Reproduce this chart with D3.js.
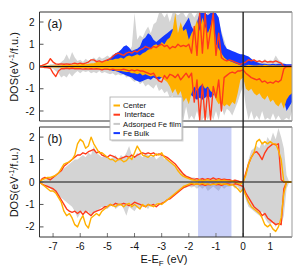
<!DOCTYPE html>
<meta charset="utf-8">
<style>
body { margin: 0; background: #fff; }
text { font-family: "Liberation Sans", Arial, Helvetica, sans-serif; fill: #111; }
.tick { font-size: 10px; }
.legend text { font-size: 7.7px; }
</style>
<svg width="299" height="269"></svg>
<script src="https://d3js.org/d3.v7.min.js"></script>
<script>

// energy grid: -7.5 eV to 1.8 eV, 0.1 eV step (94 points)
var eStart = -7.5, eStep = 0.1, nPts = 94;

// ---- panel (a) ----
var aCenterUp = [
  0.03, 0.05, 0.05, 0.04, 0.05,  0.05, 0.06, 0.05, 0.06, 0.08,
  0.08, 0.1, 0.08, 0.1, 0.1,     0.1, 0.12, 0.1, 0.12, 0.15,
  0.15, 0.2, 0.2, 0.22, 0.25,    0.25, 0.3, 0.3, 0.35, 0.35,
  0.4, 0.35, 0.45, 0.5, 0.45,    0.5, 0.55, 0.5, 0.6, 0.65,
  0.75, 0.8, 0.95, 1.0, 0.9,     1.1, 1.0, 1.2, 1.3, 1.6,
  2.4, 1.5, 2.0, 1.6, 1.7,       1.2, 1.5, 1.7, 2.1, 1.6,
  2.2, 1.8, 1.5, 1.8, 2.4,       1.0, 0.8, 0.6, 0.4, 0.3,
  0.25, 0.2, 0.15, 0.1, 0.05,    0.02, 0.05, 0.08, 0.06, 0.05,
  0.05, 0.06, 0.05, 0.08, 0.06,  0.05, 0.06, 0.05, 0.04, 0.05,
  0.02, 0, 0, 0
];
var aCenterDown = [
  -0.03, -0.04, -0.05, -0.04, -0.05,  -0.05, -0.06, -0.05, -0.06, -0.06,
  -0.06, -0.07, -0.06, -0.07, -0.08,  -0.08, -0.08, -0.09, -0.1, -0.1,
  -0.1, -0.1, -0.12, -0.12, -0.12,    -0.15, -0.15, -0.15, -0.18, -0.2,
  -0.2, -0.22, -0.25, -0.25, -0.3,    -0.3, -0.35, -0.3, -0.4, -0.35,
  -0.4, -0.45, -0.4, -0.5, -0.45,     -0.5, -0.6, -0.7, -0.9, -1.2,
  -1.0, -1.3, -1.1, -1.6, -1.4,       -1.7, -1.2, -0.9, -1.1, -0.9,
  -0.8, -1.0, -0.9, -1.1, -1.2,       -1.5, -1.7, -1.6, -1.8, -1.7,
  -1.8, -1.6, -1.7, -1.2, -0.6,       -0.5, -1.0, -1.1, -1.0, -1.2,
  -1.3, -1.2, -1.4, -1.5, -1.3,       -1.6, -1.5, -1.7, -1.8, -1.6,
  -1.9, -1.5, -1.3, -1.2
];
var aInterUp = [
  0.02, 0.05, 0.1, 0.15, 0.35,   0.2, 0.12, 0.1, 0.12, 0.1,
  0.12, 0.1, 0.12, 0.15, 0.12,   0.15, 0.12, 0.15, 0.2, 0.3,
  0.3, 0.22, 0.25, 0.2, 0.25,    0.3, 0.35, 0.45, 0.55, 0.6,
  0.55, 0.5, 0.6, 0.65, 0.6,     0.7, 0.65, 0.75, 0.8, 0.9,
  0.85, 0.8, 0.9, 0.85, 0.95,    1.0, 0.9, 0.95, 0.8, 0.9,
  0.85, 1.0, 0.9, 0.95, 0.9,     1.0, 0.6, 1.8, 0.5, 2.4,
  0.6, 2.4, 0.8, 1.6, 2.4,       0.5, 1.5, 0.4, 0.3, 0.25,
  0.3, 0.25, 0.2, 0.15, 0.1,     0.15, 0.2, 0.3, 0.25, 0.3,
  0.22, 0.25, 0.2, 0.25, 0.2,    0.22, 0.2, 0.25, 0.2, 0.15,
  0, 0, 0, 0
];
var aInterDown = [
  -0.02, -0.03, -0.05, -0.05, -0.08,  -0.3, -0.45, -0.2, -0.1, -0.1,
  -0.08, -0.1, -0.08, -0.1, -0.1,     -0.1, -0.12, -0.1, -0.12, -0.1,
  -0.12, -0.1, -0.12, -0.15, -0.12,   -0.12, -0.15, -0.12, -0.15, -0.15,
  -0.15, -0.12, -0.15, -0.2, -0.15,   -0.2, -0.15, -0.2, -0.2, -0.25,
  -0.3, -0.35, -0.3, -0.5, -0.65,     -0.7, -0.4, -0.55, -0.35, -0.4,
  -0.5, -0.35, -0.6, -0.45, -0.3,     -0.5, -0.3, -1.6, -0.6, -2.4,
  -0.8, -2.4, -1.0, -2.4, -0.9,       -1.4, -0.6, -2.0, -0.5, -0.4,
  -0.3, -0.25, -0.3, -0.2, -0.2,      -0.15, -0.3, -0.4, -0.5, -0.55,
  -0.6, -0.55, -0.7, -0.65, -0.75,    -0.7, -0.75, -0.65, -0.7, -0.6,
  -0.1, 0, 0, 0
];
var aFilmUp = [
  0.02, 0.05, 0.08, 0.05, 0.1,   0.1, 0.15, 0.1, 0.2, 0.3,
  0.55, 0.3, 0.65, 0.4, 0.25,    0.3, 0.2, 0.35, 0.25, 0.3,
  0.4, 0.3, 0.45, 0.35, 0.4,     0.5, 0.4, 0.55, 0.5, 0.6,
  0.7, 0.6, 0.8, 0.7, 0.9,       2.4, 1.2, 1.4, 1.3, 1.6,
  1.8, 1.5, 1.9, 2.0, 2.4,       2.4, 2.2, 2.4, 2.0, 2.4,
  2.4, 2.3, 2.4, 2.4, 2.2,       2.4, 2.4, 2.2, 2.4, 2.4,
  2.4, 2.3, 2.4, 2.4, 2.4,       2.4, 2.0, 1.6, 1.2, 0.8,
  0.6, 0.5, 0.45, 0.4, 0.3,      0.2, 0.25, 0.3, 0.2, 0.25,
  0.2, 0.3, 0.2, 0.35, 0.2,      0.3, 0.25, 0.5, 0.3, 0.2,
  0.15, 0.1, 0.1, 0.1
];
var aFilmDown = [
  -0.02, -0.05, -0.05, -0.1, -0.08,  -0.1, -0.2, -0.3, -0.5, -0.4,
  -0.5, -0.3, -0.45, -0.3, -0.2,     -0.3, -0.2, -0.25, -0.2, -0.3,
  -0.25, -0.3, -0.2, -0.3, -0.25,    -0.3, -0.35, -0.3, -0.4, -0.35,
  -0.4, -0.35, -0.5, -0.45, -0.6,    -0.7, -0.6, -0.8, -0.7, -0.9,
  -0.8, -0.9, -1.0, -0.8, -1.1,      -1.0, -1.2, -1.1, -1.4, -1.3,
  -1.6, -2.4, -2.0, -2.4, -1.8,      -2.4, -2.2, -2.4, -2.0, -2.4,
  -2.4, -2.2, -2.4, -2.1, -2.4,      -2.0, -2.4, -1.8, -2.2, -1.9,
  -2.0, -2.2, -1.9, -1.6, -1.2,      -0.9, -1.8, -2.4, -2.0, -2.4,
  -2.2, -2.4, -2.0, -2.4, -2.3,      -2.4, -2.1, -2.4, -2.2, -2.4,
  -2.4, -2.3, -2.4, -2.0
];
var aBulkUp = [
  0.02, 0.03, 0.02, 0.02, 0.03,  0.03, 0.02, 0.03, 0.02, 0.03,
  0.03, 0.04, 0.03, 0.05, 0.04,  0.05, 0.05, 0.06, 0.05, 0.07,
  0.08, 0.1, 0.12, 0.15, 0.2,    0.3, 0.35, 0.5, 0.6, 0.65,
  0.75, 0.9, 0.95, 0.85, 0.7,    0.75, 0.8, 0.9, 1.2, 1.3,
  1.5, 1.4, 1.2, 1.1, 1.2,       1.3, 1.4, 1.5, 1.6, 1.7,
  1.4, 1.5, 1.6, 1.8, 2.0,       2.2, 1.8, 1.6, 2.0, 2.4,
  2.4, 2.4, 2.3, 2.4, 2.4,       2.4, 2.2, 1.5, 1.0, 0.8,
  0.75, 0.7, 0.65, 0.6, 0.55,    0.55, 0.5, 0.45, 0.35, 0.25,
  0.2, 0.15, 0.12, 0.12, 0.1,    0.1, 0.12, 0.1, 0.12, 0.12,
  0.12, 0.1, 0.1, 0.1
];
var aBulkDown = [
  -0.02, -0.03, -0.03, -0.02, -0.03,  -0.03, -0.03, -0.04, -0.03, -0.04,
  -0.04, -0.05, -0.04, -0.05, -0.05,  -0.05, -0.06, -0.06, -0.07, -0.08,
  -0.08, -0.1, -0.1, -0.12, -0.12,    -0.15, -0.15, -0.2, -0.2, -0.25,
  -0.3, -0.35, -0.4, -0.45, -0.5,     -0.6, -0.65, -0.7, -0.65, -0.6,
  -0.55, -0.6, -0.5, -0.55, -0.6,     -0.5, -0.45, -0.5, -0.55, -0.5,
  -0.6, -0.7, -0.8, -0.9, -1.0,       -1.2, -1.3, -1.4, -1.5, -1.4,
  -1.5, -1.4, -1.3, -1.4, -1.3,       -1.2, -1.1, -1.0, -1.0, -0.9,
  -0.9, -0.8, -0.7, -0.6, -0.5,       -0.4, -0.45, -0.5, -0.5, -0.55,
  -0.6, -0.6, -0.65, -0.7, -0.7,      -0.75, -0.8, -0.85, -0.9, -1.0,
  -1.5, -2.0, -1.8, -1.6
];

// ---- panel (b) ----
var bGrayUp = [
  0, 0.05, 0.1, 0.15, 0.2,       0.25, 0.3, 0.4, 0.5, 0.6,
  0.7, 0.8, 0.9, 1.0, 1.0,       1.1, 1.2, 1.1, 1.3, 1.2,
  1.6, 1.3, 1.2, 1.1, 1.2,       1.1, 1.0, 1.1, 1.2, 1.0,
  1.2, 1.1, 1.3, 1.6, 1.2,       1.1, 1.3, 1.2, 1.1, 1.3,
  1.2, 1.1, 1.2, 1.0, 1.1,       1.2, 1.0, 1.1, 0.9, 0.8,
  0.7, 0.6, 0.5, 0.4, 0.3,       0.25, 0.2, 0.2, 0.15, 0.15,
  0.2, 0.1, 0.15, 0.1, 0.12,     0.1, 0.15, 0.1, 0.12, 0.1,
  0.1, 0.08, 0.1, 0.05, 0.05,    0, 0.5, 1.0, 1.4, 1.5,
  1.6, 1.5, 1.8, 1.6, 2.0,       1.8, 2.2, 1.9, 2.4, 2.0,
  1.5, 0.3, 0, 0
];
var bGrayDown = [
  0, -0.05, -0.1, -0.2, -0.3,    -0.4, -0.5, -0.6, -0.7, -0.8,
  -0.9, -1.0, -1.1, -1.3, -1.6,  -1.4, -1.3, -1.4, -1.3, -1.5,
  -1.4, -1.3, -1.2, -1.1, -1.2,  -1.2, -1.1, -1.0, -1.2, -1.1,
  -1.0, -1.2, -1.5, -1.1, -1.2,  -1.3, -1.1, -1.2, -1.0, -1.1,
  -1.2, -1.0, -1.1, -1.0, -0.9,  -1.0, -0.9, -0.8, -0.7, -0.6,
  -0.5, -0.4, -0.35, -0.3, -0.25, -0.2, -0.25, -0.2, -0.3, -0.2,
  -0.3, -0.2, -0.4, -0.3, -0.2,  -0.3, -0.4, -0.2, -0.3, -0.2,
  -0.2, -0.15, -0.3, -0.2, -0.4, -0.3, -0.8, -1.1, -1.2, -1.3,
  -1.4, -1.5, -1.3, -1.6, -1.8,  -1.9, -1.7, -2.0, -1.8, -1.9,
  -1.5, -0.3, 0, 0
];
var bOrangeUp = [
  0, 0.1, 0.15, 0.2, 0.2,        0.25, 0.3, 0.4, 0.6, 0.8,
  0.85, 0.9, 1.0, 1.2, 1.7,      1.9, 1.8, 1.5, 1.6, 2.0,
  1.7, 1.5, 1.3, 1.3, 1.2,       1.1, 1.0, 1.0, 0.9, 1.0,
  1.0, 0.9, 0.95, 1.1, 1.0,      1.3, 1.6, 1.4, 1.2, 1.15,
  1.1, 1.2, 1.15, 1.25, 1.2,     1.3, 1.1, 1.0, 0.9, 0.8,
  0.7, 0.5, 0.35, 0.25, 0.2,     0.15, 0.1, 0.08, 0.05, 0.1,
  0.05, 0.08, 0.1, 0.05, 0.08,   0.05, 0.1, 0.05, 0.08, 0.05,
  0.02, 0.05, 0, -0.05, -0.1,    0, 0.3, 0.8, 1.1, 1.3,
  1.8, 1.9, 1.7, 1.8, 1.7,       1.8, 1.7, 1.7, 1.4, 1.0,
  0, 0, 0, 0
];
var bOrangeDown = [
  0, -0.1, -0.2, -0.3, -0.4,     -0.4, -0.5, -0.7, -0.9, -1.3,
  -1.5, -1.4, -1.6, -1.9, -2.0,  -1.7, -1.5, -1.9, -2.05, -1.6,
  -1.5, -1.4, -1.5, -1.3, -1.2,  -1.1, -1.0, -1.05, -1.1, -1.0,
  -1.0, -1.1, -1.0, -0.95, -1.1, -1.0, -1.1, -1.2, -1.0, -1.1,
  -1.0, -1.05, -1.1, -1.0, -0.95, -1.0, -0.9, -0.8, -0.7, -0.6,
  -0.5, -0.4, -0.3, -0.2, -0.15, -0.1, -0.05, -0.1, -0.08, -0.1,
  -0.05, -0.1, -0.08, -0.12, -0.1, -0.1, -0.05, -0.1, -0.08, -0.1,
  -0.15, -0.1, -0.2, -0.3, -0.45, -0.3, -0.6, -0.9, -1.1, -1.2,
  -1.3, -1.4, -1.6, -1.9, -2.0,  -1.9, -2.1, -2.2, -2.0, -1.6,
  -0.5, 0, 0, 0
];
var bRedUp = [
  0, 0.15, 0.2, 0.15, 0.1,       0.2, 0.3, 0.4, 0.5, 0.7,
  0.8, 0.9, 1.0, 1.1, 1.2,       1.2, 1.3, 1.25, 1.35, 1.4,
  1.45, 1.3, 1.35, 1.2, 1.15,    1.1, 1.2, 1.15, 1.1, 1.0,
  1.05, 1.1, 1.15, 1.1, 1.2,     1.1, 1.2, 1.25, 1.3, 1.25,
  1.3, 1.25, 1.3, 1.2, 1.25,     1.2, 1.15, 1.1, 1.0, 0.9,
  0.8, 0.65, 0.5, 0.35, 0.25,    0.2, 0.15, 0.12, 0.15, 0.1,
  0.15, 0.1, 0.15, 0.12, 0.18,   0.12, 0.15, 0.1, 0.12, 0.1,
  0.1, 0.05, 0.08, 0.05, 0,      0, 0.4, 0.8, 1.1, 1.3,
  1.35, 1.2, 1.0, 1.3, 1.5,      1.6, 1.7, 1.65, 1.7, 0.1,
  0, 0, 0, 0
];
var bRedDown = [
  0, -0.1, -0.15, -0.2, -0.25,   -0.3, -0.4, -0.6, -0.8, -1.0,
  -1.2, -1.3, -1.35, -1.3, -1.4, -1.3, -1.45, -1.3, -1.4, -1.5,
  -1.35, -1.3, -1.25, -1.2, -1.1, -1.1, -1.0, -1.05, -0.95, -1.0,
  -1.0, -0.95, -1.0, -1.05, -1.0, -0.9, -0.95, -1.0, -1.05, -1.1,
  -1.0, -1.05, -1.0, -1.1, -1.0, -0.95, -0.9, -0.8, -0.75, -0.65,
  -0.55, -0.45, -0.35, -0.25, -0.2, -0.15, -0.1, -0.12, -0.08, -0.12,
  -0.1, -0.15, -0.1, -0.12, -0.08, -0.12, -0.1, -0.15, -0.1, -0.08,
  -0.1, -0.12, -0.08, -0.1, -0.15, -0.2, -0.5, -0.7, -0.9, -1.1,
  -1.2, -1.3, -1.5, -1.4, -1.6,  -1.7, -1.8, -1.9, -1.85, -1.9,
  -0.3, 0, 0, 0
];

var gapBand = [-1.66, -0.43];   // shaded region in (b)
var yTicks = [-2, -1, 0, 1, 2];
var xTicks = [-7, -6, -5, -4, -3, -2, -1, 0, 1];
var legendNames = ["Center", "Interface", "Adsorped Fe film", "Fe Bulk"];
var legendColors = ["#ffb000", "#ff3a1a", "#c8c8c8", "#1438ff"];

var cOrange = "#ffb000", cRed = "#ff3a1a", cGray = "#d4d4d4", cBlue = "#1438ff";

var svg = d3.select("svg");
var x = d3.scaleLinear().domain([-7.5, 1.8]).range([39.5, 292]);
var yA = d3.scaleLinear().domain([-2.45, 2.45]).range([121, 12]);
var yB = d3.scaleLinear().domain([-2.45, 2.45]).range([237, 127]);

function en(i) { return eStart + eStep * i; }

function makePanel(id, y) {
  svg.append("clipPath").attr("id", id)
    .append("rect")
    .attr("x", x.range()[0]).attr("y", y.range()[1])
    .attr("width", x.range()[1] - x.range()[0])
    .attr("height", y.range()[0] - y.range()[1]);
  return svg.append("g").attr("clip-path", "url(#" + id + ")");
}

function area(g, y, vals, color) {
  var a = d3.area()
    .x(function(d, i) { return x(en(i)); })
    .y0(y(0))
    .y1(function(d) { return y(d); });
  g.append("path").attr("d", a(vals)).attr("fill", color).attr("stroke", "none");
}

function line(g, y, vals, color) {
  var l = d3.line()
    .x(function(d, i) { return x(en(i)); })
    .y(function(d) { return y(d); });
  g.append("path").attr("d", l(vals)).attr("fill", "none")
    .attr("stroke", color).attr("stroke-width", 1.4)
    .attr("stroke-linejoin", "round");
}

function frame(y, label, showX) {
  var x0 = x.range()[0], x1 = x.range()[1], top = y.range()[1], bot = y.range()[0];
  // zero line
  svg.append("line").attr("x1", x0).attr("x2", x1)
    .attr("y1", y(0)).attr("y2", y(0))
    .attr("stroke", "#111").attr("stroke-width", 1.1);
  // y ticks (inward)
  yTicks.forEach(function(t) {
    svg.append("line").attr("x1", x0).attr("x2", x0 + 4)
      .attr("y1", y(t)).attr("y2", y(t)).attr("stroke", "#555");
    svg.append("text").attr("class", "tick")
      .attr("x", x0 - 5).attr("y", y(t) + 3.6)
      .attr("text-anchor", "end").text(t);
  });
  if (showX) {
    xTicks.forEach(function(t) {
      svg.append("line").attr("x1", x(t)).attr("x2", x(t))
        .attr("y1", bot).attr("y2", bot - 4).attr("stroke", "#777");
      svg.append("text").attr("class", "tick")
        .attr("x", x(t)).attr("y", bot + 13)
        .attr("text-anchor", "middle").text(t);
    });
  }
  svg.append("path")
    .attr("d", "M" + x1 + "," + top + "H" + x0 + "V" + bot + "H" + x1)
    .attr("fill", "none").attr("stroke", "#333").attr("stroke-width", 1);
  svg.append("line").attr("x1", x1).attr("x2", x1).attr("y1", top).attr("y2", bot)
    .attr("stroke", "#999").attr("stroke-width", 1);
  // panel label
  svg.append("text").attr("x", x0 + 8).attr("y", top + 16)
    .attr("font-size", 12).text(label);
  // y label
  var yl = svg.append("text")
    .attr("transform", "translate(18," + (y(0) + 0.5) + ") rotate(-90)")
    .attr("text-anchor", "middle").attr("font-size", 11);
  yl.append("tspan").text("DOS(eV");
  yl.append("tspan").attr("dy", -4).attr("font-size", 7.5).text("-1");
  yl.append("tspan").attr("dy", 4).text("/f.u.)");
}

// panel (a)
var ga = makePanel("clipA", yA);
area(ga, yA, aFilmUp, cGray);
area(ga, yA, aFilmDown, cGray);
area(ga, yA, aBulkUp, cBlue);
area(ga, yA, aBulkDown, cBlue);
area(ga, yA, aCenterUp, cOrange);
area(ga, yA, aCenterDown, cOrange);
line(ga, yA, aInterUp, cRed);
line(ga, yA, aInterDown, cRed);
frame(yA, "(a)", false);

// panel (b)
var gb = makePanel("clipB", yB);
area(gb, yB, bGrayUp, cGray);
area(gb, yB, bGrayDown, cGray);
gb.append("rect")
  .attr("x", x(gapBand[0])).attr("width", x(gapBand[1]) - x(gapBand[0]))
  .attr("y", yB.range()[1]).attr("height", yB.range()[0] - yB.range()[1])
  .attr("fill", "rgb(100,120,235)").attr("fill-opacity", 0.35);
line(gb, yB, bRedUp, cRed);
line(gb, yB, bRedDown, cRed);
line(gb, yB, bOrangeUp, cOrange);
line(gb, yB, bOrangeDown, cOrange);
frame(yB, "(b)", true);

// Fermi level line through both panels
svg.append("line").attr("x1", x(0)).attr("x2", x(0))
  .attr("y1", yA.range()[1]).attr("y2", yB.range()[0])
  .attr("stroke", "#222").attr("stroke-width", 1.4);

// x label
var xl = svg.append("text").attr("x", 164).attr("y", 263)
  .attr("text-anchor", "middle").attr("font-size", 11);
xl.append("tspan").text("E-E");
xl.append("tspan").attr("dy", 3).attr("font-size", 8).text("F");
xl.append("tspan").attr("dy", -3).text(" (eV)");

// legend
var lg = svg.append("g").attr("class", "legend");
lg.append("rect").attr("x", 111.5).attr("y", 98.5).attr("width", 72).attr("height", 43)
  .attr("fill", "#bbb").attr("opacity", 0.6);
lg.append("rect").attr("x", 110).attr("y", 97).attr("width", 72).attr("height", 43)
  .attr("fill", "#fff").attr("stroke", "#aaa").attr("stroke-width", 0.8);
legendNames.forEach(function(name, i) {
  var yy = 105.5 + i * 9.2;
  lg.append("line").attr("x1", 113.5).attr("x2", 120)
    .attr("y1", yy).attr("y2", yy)
    .attr("stroke", legendColors[i]).attr("stroke-width", 2);
  lg.append("text").attr("x", i === 1 ? 124.5 : 123).attr("y", yy + 2.7).text(name);
});

</script>
